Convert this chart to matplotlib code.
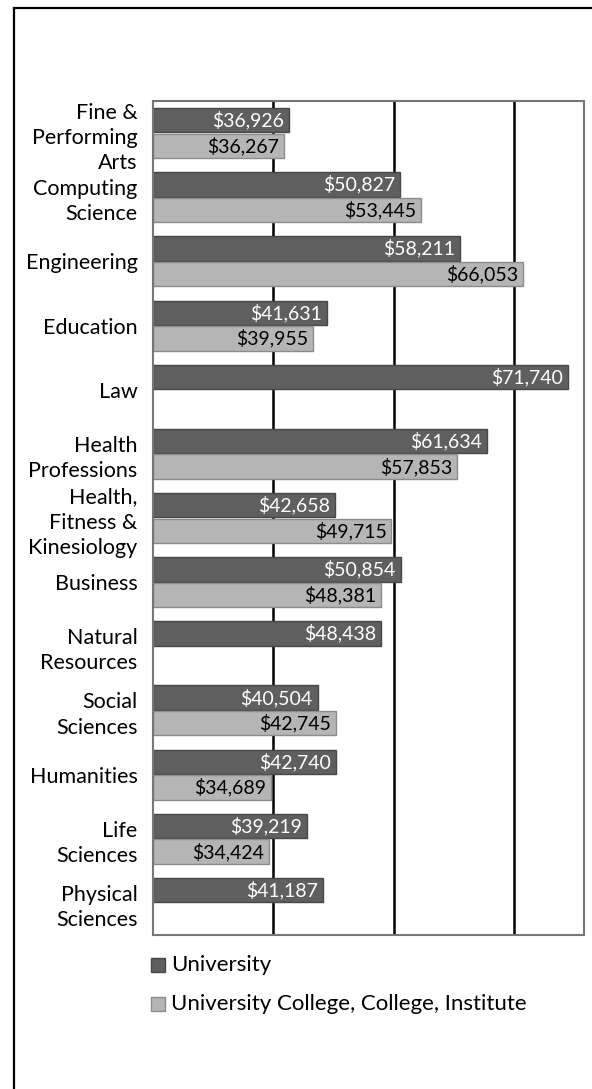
import matplotlib
matplotlib.use("Agg")
import matplotlib.pyplot as plt
from matplotlib.lines import Line2D
from matplotlib.patches import Rectangle
import numpy as np

plt.rcParams['font.family'] = ['Lato', 'DejaVu Sans']

categories = [
    "Fine &\nPerforming\nArts",
    "Computing\nScience",
    "Engineering",
    "Education",
    "Law",
    "Health\nProfessions",
    "Health,\nFitness &\nKinesiology",
    "Business",
    "Natural\nResources",
    "Social\nSciences",
    "Humanities",
    "Life\nSciences",
    "Physical\nSciences",
]
university = [36926, 50827, 58211, 41631, 71740, 61634, 42658, 50854,
              48438, 40504, 42740, 39219, 41187]
college = [36267, 53445, 66053, 39955, None, 57853, 49715, 48381,
           None, 42745, 34689, 34424, None]
series_names = ["University", "University College, College, Institute"]

DARK, DARK_EDGE = "#5f5f5f", "#474747"
LIGHT, LIGHT_EDGE = "#b5b5b5", "#8c8c8c"

W, H = 592, 1089
fig = plt.figure(figsize=(W / 100, H / 100), dpi=100)
ax = fig.add_axes([153 / W, 1 - 935 / H, (584 - 153) / W, (935 - 101) / H])

x0 = 20000
xmax = 73700
ax.set_xlim(x0, xmax)
ax.set_ylim(12.5, -0.5)

for gx in (35000, 50000, 65000):
    ax.axvline(gx, color="black", lw=1.8, zorder=1)

pos = np.arange(len(categories))
bh = 0.38
for i, (u, c) in enumerate(zip(university, college)):
    ax.barh(pos[i] - 0.2, u - x0, left=x0, height=bh, color=DARK,
            edgecolor=DARK_EDGE, lw=1.0, zorder=2)
    ax.annotate(f"${u:,}", (u, pos[i] - 0.2), xytext=(-3.5, 0),
                textcoords="offset points", ha="right", va="center",
                color="white", fontsize=14, zorder=3)
    if c is not None:
        ax.barh(pos[i] + 0.2, c - x0, left=x0, height=bh, color=LIGHT,
                edgecolor=LIGHT_EDGE, lw=1.0, zorder=2)
        ax.annotate(f"${c:,}", (c, pos[i] + 0.2), xytext=(-3.5, 0),
                    textcoords="offset points", ha="right", va="center",
                    color="black", fontsize=14, zorder=3)

ax.set_yticks(pos)
ax.set_yticklabels(categories, fontsize=15.5, linespacing=1.32,
                   multialignment="right")
ax.tick_params(axis="y", length=0, pad=11)
ax.set_xticks([])
for s in ax.spines.values():
    s.set_color("#777777")
    s.set_linewidth(1.5)

# legend
for k, (name, fc, ec) in enumerate([(series_names[0], DARK, DARK_EDGE),
                                    (series_names[1], LIGHT, LIGHT_EDGE)]):
    yc = 965 + k * 39
    fig.add_artist(Rectangle((151 / W, 1 - (yc + 7) / H), 14 / W, 14 / H,
                             facecolor=fc, edgecolor=ec, lw=1.0,
                             transform=fig.transFigure))
    fig.text(171 / W, 1 - yc / H, name, fontsize=16, va="center", ha="left")

# page frame
fig.add_artist(Line2D([14 / W, 1], [1 - 8 / H, 1 - 8 / H], color="black",
                      lw=1.6, transform=fig.transFigure))
fig.add_artist(Line2D([14 / W, 14 / W], [0, 1 - 8 / H], color="black",
                      lw=1.6, transform=fig.transFigure))

fig.savefig("out.png", dpi=100)
